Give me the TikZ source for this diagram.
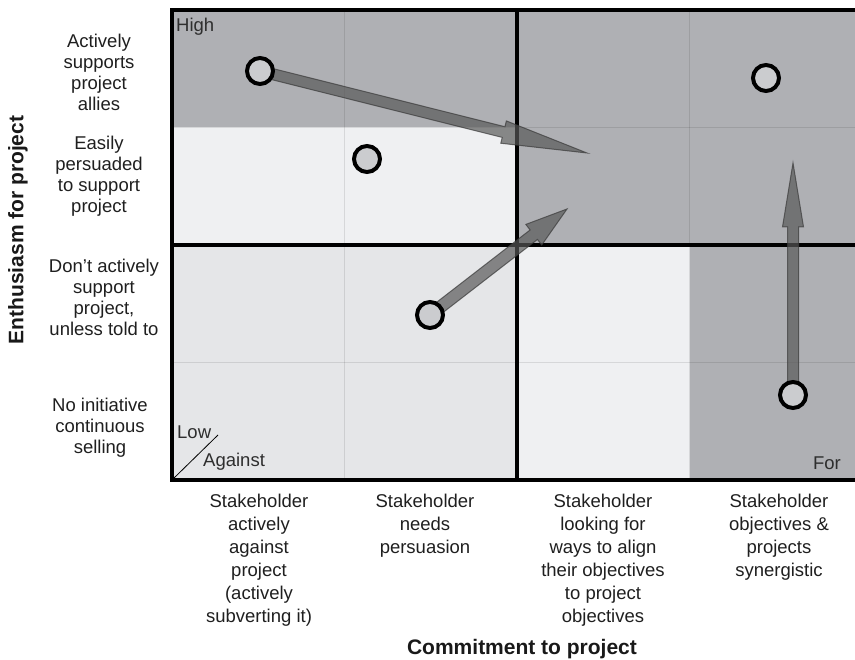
\documentclass[tikz,border=0pt]{standalone}
\usepackage{fontspec}
\setmainfont{Liberation Sans}
\usepackage{xcolor}
\usepackage{tikz}
\usetikzlibrary{calc}

\definecolor{cellDark}{HTML}{AFB0B4}
\definecolor{cellLight}{HTML}{EFF0F2}
\definecolor{cellMid}{HTML}{E5E6E8}
\definecolor{dotFill}{HTML}{CBCCCF}
\definecolor{arrowFill}{HTML}{585858}
\definecolor{arrowEdge}{HTML}{3A3A3A}

% block arrow: start, tip, shaft half width, head half width, head length
\newcommand{\blockarrow}[5]{%
  \coordinate (ah) at ($(#2)!#5!(#1)$);
  \filldraw[arrowbody] ($(#1)!#3!90:(#2)$) -- ($(ah)!#3!90:(#2)$) -- ($(ah)!#4!90:(#2)$) -- (#2)
    -- ($(ah)!#4!-90:(#2)$) -- ($(ah)!#3!-90:(#2)$) -- ($(#1)!#3!-90:(#2)$) -- cycle;}

\begin{document}
\begin{tikzpicture}[x=1pt,y=-1pt,
    arrowbody/.style={fill=arrowFill,draw=arrowEdge,line width=1pt,fill opacity=0.69,draw opacity=0.7,line join=miter},
    dot/.style={circle,draw=black,line width=4pt,fill=dotFill,minimum size=26pt,inner sep=0pt},
    rowlbl/.style={align=center,text=black!88,font=\fontsize{18.5}{21}\selectfont},
    collbl/.style={align=center,anchor=north,inner sep=0pt,text=black!88,font=\fontsize{18.5}{23}\selectfont},
    corner/.style={text=black!82,font=\fontsize{18.5}{22}\selectfont,inner sep=0pt},
    axistitle/.style={text=black!90,font=\fontsize{21}{24}\selectfont\bfseries},
    thick grid/.style={line width=4pt},
    thin grid/.style={line width=1.2pt,draw=black,draw opacity=0.1}]
    \useasboundingbox (0,0) rectangle (855,660);

    % cells
    \fill[cellDark] (172,10) rectangle (517,127.5);
    \fill[cellLight] (172,127.5) rectangle (517,245);
    \fill[cellDark] (517,10) rectangle (855,245);
    \fill[cellMid] (172,245) rectangle (517,480);
    \fill[cellLight] (517,245) rectangle (689.5,480);
    \fill[cellDark] (689.5,245) rectangle (855,480);

    % grid
    \draw[thin grid] (344.5,10) -- (344.5,480) (689.5,10) -- (689.5,480);
    \draw[thin grid] (172,127.5) -- (855,127.5) (172,362.5) -- (855,362.5);
    \draw[thick grid] (517,10) -- (517,480);
    \draw[thick grid] (172,245) -- (855,245);
    \draw[thick grid] (855,10) -- (172,10) -- (172,480) -- (855,480);

    % corner marks
    \node[corner,anchor=west] (high) at (176,27) {High};
    \node[corner,anchor=west] (low) at (177,432) {Low};
    \node[corner,anchor=west] (against) at (203,462) {Against};
    \node[corner,anchor=east] (for) at (841,463) {For};
    \draw[line width=0.8pt] (173,479) -- (218,435);

    % stakeholders
    \coordinate (p1) at (260,71);
    \coordinate (p2) at (367,159);
    \coordinate (p3) at (430,315);
    \coordinate (p4) at (793,395);
    \coordinate (p5) at (766,78);
    \coordinate (t1) at (587,153);
    \coordinate (t2) at (567,209);
    \coordinate (t4) at (793,163);

    \blockarrow{p1}{t1}{5.5pt}{11.5pt}{86pt}
    \blockarrow{p3}{t2}{6pt}{13pt}{42pt}
    \blockarrow{p4}{t4}{5.5pt}{10.5pt}{64pt}

    \node[dot] (s1) at (p1) {};
    \node[dot] (s2) at (p2) {};
    \node[dot] (s3) at (p3) {};
    \node[dot] (s4) at (p4) {};
    \node[dot] (s5) at (p5) {};

    % row labels
    \node[rowlbl] (r1) at (99,72.5) {Actively\\supports\\project\\allies};
    \node[rowlbl] (r2) at (99,176.5) {Easily\\persuaded\\to support\\project};
    \node[rowlbl] (r3) at (104,297) {Don’t actively\\support\\project,\\unless told to};
    \node[rowlbl] (r4) at (100,427.5) {No initiative\\continuous\\selling};

    % column labels
    \node[collbl] (k1) at (259,494) {Stakeholder\\actively\\against\\project\\(actively\\subverting it)};
    \node[collbl] (k2) at (425,494) {Stakeholder\\needs\\persuasion};
    \node[collbl] (k3) at (603,494) {Stakeholder\\looking for\\ways to align\\their objectives\\to project\\objectives};
    \node[collbl] (k4) at (779,494) {Stakeholder\\objectives \&\\projects\\synergistic};

    % axis titles
    \node[axistitle] (xt) at (522,649) {Commitment to project};
    \node[axistitle,rotate=90] (yt) at (18,230) {Enthusiasm for project};
\end{tikzpicture}
\end{document}
